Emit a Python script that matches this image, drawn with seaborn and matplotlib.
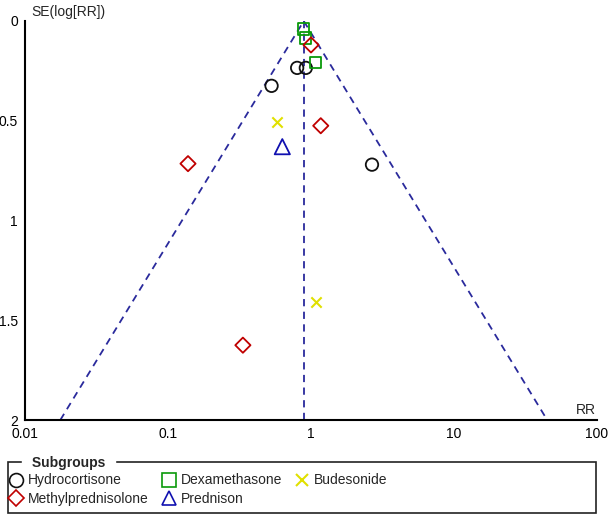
import numpy as np
import pandas as pd
import matplotlib
matplotlib.use("Agg")
import matplotlib.pyplot as plt
from matplotlib.patches import Rectangle
from matplotlib.lines import Line2D
import seaborn as sns

sns.set_style("white")
plt.rcParams["font.family"] = ["Liberation Sans", "DejaVu Sans"]

# Study data
groups = ["Hydrocortisone", "Dexamethasone", "Budesonide", "Methylprednisolone", "Prednison"]
hydro_rr = [0.80, 0.92, 0.53, 2.67]
hydro_se = [0.235, 0.235, 0.325, 0.72]
dexa_rr = [0.89, 0.92, 1.08]
dexa_se = [0.04, 0.085, 0.21]
bude_rr = [0.58, 1.08]
bude_se = [0.505, 1.41]
methyl_rr = [1.00, 1.17, 0.138, 0.334]
methyl_se = [0.12, 0.525, 0.715, 1.625]
pred_rr = [0.63]
pred_se = [0.63]

pooled_rr = 0.89
se_max = 2.0

x_ticks = [0.01, 0.1, 1, 10, 100]
x_tick_labels = ["0.01", "0.1", "1", "10", "100"]
y_ticks = [0, 0.5, 1, 1.5, 2]
y_tick_labels = ["0", "0.5", "1", "1.5", "2"]

styles = {
    "Hydrocortisone": dict(marker="o", color="#111111", s=80, filled=False),
    "Dexamethasone": dict(marker="s", color="#0a9a0a", s=65, filled=False),
    "Budesonide": dict(marker="x", color="#e0e000", s=55, filled=True),
    "Methylprednisolone": dict(marker="D", color="#c00000", s=60, filled=False),
    "Prednison": dict(marker="^", color="#1010b0", s=120, filled=False),
}
data = {
    "Hydrocortisone": (hydro_rr, hydro_se),
    "Dexamethasone": (dexa_rr, dexa_se),
    "Budesonide": (bude_rr, bude_se),
    "Methylprednisolone": (methyl_rr, methyl_se),
    "Prednison": (pred_rr, pred_se),
}

fig = plt.figure(figsize=(6.14, 5.17), dpi=100)
ax = fig.add_axes([25 / 614, 97 / 517, 572 / 614, 399 / 517])

# funnel (95% pseudo confidence limits)
line_col = "#2a2a9c"
half = 1.96 * se_max
left_rr = np.exp(np.log(pooled_rr) - half)
right_rr = np.exp(np.log(pooled_rr) + half)
funnel = pd.DataFrame({
    "rr": [left_rr, pooled_rr, right_rr],
    "se": [se_max, 0, se_max],
})
ax.plot(funnel["rr"], funnel["se"], ls=(0, (4, 3)), color=line_col, lw=1.3)
ax.plot([pooled_rr, pooled_rr], [0, se_max], ls=(0, (4, 3)), color=line_col, lw=1.3)

for g in groups:
    st = styles[g]
    df = pd.DataFrame({"rr": data[g][0], "se": data[g][1]})
    if st["filled"]:
        sns.scatterplot(data=df, x="rr", y="se", marker=st["marker"], color=st["color"],
                        s=st["s"], linewidth=1.5, ax=ax, zorder=3)
    else:
        sns.scatterplot(data=df, x="rr", y="se", marker=st["marker"], facecolor="none",
                        edgecolor=st["color"], s=st["s"], linewidth=1.3, ax=ax, zorder=3)

ax.set_xscale("log")
ax.set_xlim(0.01, 100)
ax.set_ylim(2, 0)
ax.set_xticks(x_ticks)
ax.set_xticklabels(x_tick_labels)
ax.xaxis.set_minor_locator(matplotlib.ticker.NullLocator())
ax.set_yticks(y_ticks)
ax.set_yticklabels(y_tick_labels)
ax.tick_params(direction="inout", length=8, width=1.2, labelsize=10, pad=1, colors="black")
ax.set_xlabel("")
ax.set_ylabel("")
for s in ["top", "right"]:
    ax.spines[s].set_visible(False)
for s in ["left", "bottom"]:
    ax.spines[s].set_color("black")
    ax.spines[s].set_linewidth(1.5)

fig.text(31 / 614, 1 - 12 / 517, "SE(log[RR])", fontsize=10, va="center", ha="left")
fig.text(596 / 614, 1 - 410 / 517, "RR", fontsize=10, va="center", ha="right")

# legend box
box = Rectangle((8 / 614, 1 - 513 / 517), 588 / 614, 51 / 517, transform=fig.transFigure,
                fill=False, edgecolor="#222222", lw=1.2)
fig.add_artist(box)
fig.text(28 / 614, 1 - 463 / 517, " Subgroups ", fontsize=10, fontweight="bold",
         va="center", ha="left", backgroundcolor="white")

handles = []
for g in groups:
    st = styles[g]
    if st["filled"]:
        h = Line2D([], [], ls="none", marker=st["marker"], color=st["color"],
                   markersize=9, markeredgewidth=1.5)
    else:
        h = Line2D([], [], ls="none", marker=st["marker"], markerfacecolor="none",
                   markeredgecolor=st["color"], markersize=10 if st["marker"] != "D" else 8.5,
                   markeredgewidth=1.2)
    handles.append(h)
order = [0, 3, 1, 4, 2]
fig.legend([handles[i] for i in order], [groups[i] for i in order],
           loc="upper left", bbox_to_anchor=(7 / 614, 1 - 472 / 517), ncol=3,
           frameon=False, fontsize=10, handlelength=1.1, handletextpad=0.3,
           columnspacing=0.9, labelspacing=0.35, borderpad=0.1, borderaxespad=0)

fig.savefig("out.png", dpi=100)
